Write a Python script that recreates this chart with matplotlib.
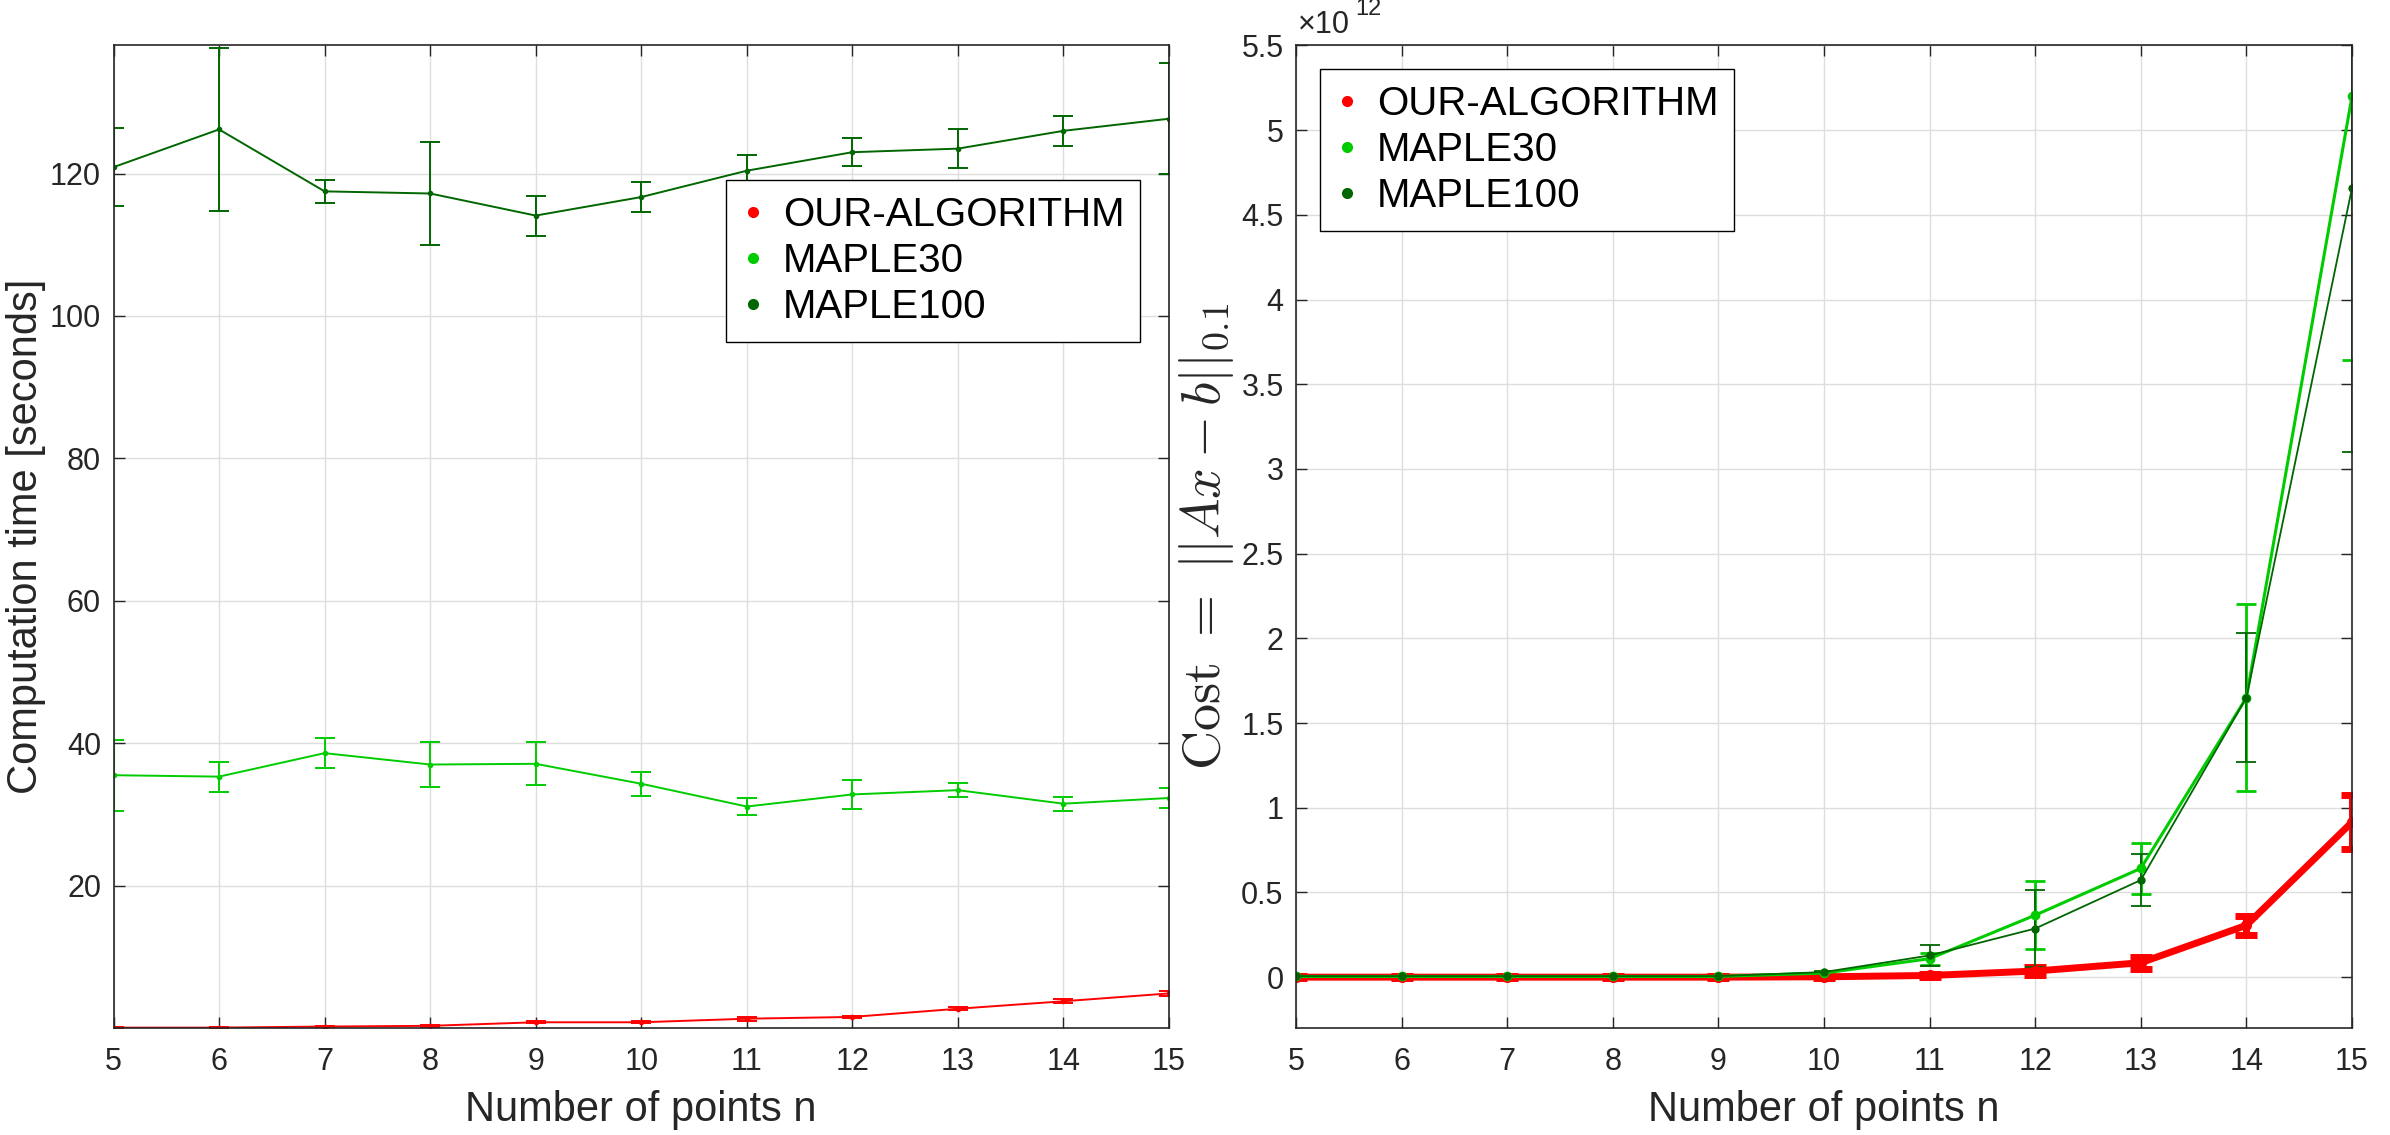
import numpy as np
import matplotlib.pyplot as plt
from matplotlib.lines import Line2D
from matplotlib.ticker import FuncFormatter

plt.rcParams['font.family'] = ['Liberation Sans', 'DejaVu Sans']
plt.rcParams['mathtext.fontset'] = 'cm'

# data
n_points = [5, 6, 7, 8, 9, 10, 11, 12, 13, 14, 15]
labels = ['OUR-ALGORITHM', 'MAPLE30', 'MAPLE100']

# computation time [seconds]
time_ours = [0.05, 0.05, 0.2, 0.3, 0.8, 0.8, 1.3, 1.55, 2.7, 3.75, 4.85]
time_ours_err = [0.05, 0.05, 0.1, 0.1, 0.15, 0.15, 0.3, 0.2, 0.2, 0.25, 0.35]
time_m30 = [35.5, 35.3, 38.6, 37.0, 37.1, 34.3, 31.1, 32.8, 33.4, 31.5, 32.3]
time_m30_err = [5.0, 2.1, 2.1, 3.1, 3.0, 1.7, 1.25, 2.0, 1.0, 1.0, 1.4]
time_m100 = [120.9, 126.2, 117.5, 117.2, 114.1, 116.7, 120.4, 123.0, 123.5, 126.0, 127.7]
time_m100_err = [5.5, 11.5, 1.6, 7.2, 2.8, 2.1, 2.2, 2.0, 2.7, 2.1, 7.8]

# cost, in units of 1e12
cost_ours = [0.0, 0.0, 0.0, 0.0, 0.0, 0.002, 0.01, 0.036, 0.085, 0.306, 0.915]
cost_ours_err = [0.005, 0.005, 0.005, 0.005, 0.005, 0.005, 0.01, 0.025, 0.035, 0.056, 0.16]
cost_m30 = [0.004, 0.004, 0.004, 0.004, 0.004, 0.024, 0.109, 0.366, 0.642, 1.65, 5.2]
cost_m30_err = [0.002, 0.002, 0.002, 0.002, 0.002, 0.005, 0.035, 0.2, 0.15, 0.55, 1.555]
cost_m100 = [0.006, 0.006, 0.006, 0.006, 0.006, 0.03, 0.128, 0.287, 0.573, 1.65, 4.658]
cost_m100_err = [0.002, 0.002, 0.002, 0.002, 0.002, 0.006, 0.06, 0.225, 0.155, 0.38, 1.56]

c_red = (1.0, 0.0, 0.0)
c_light = (0.0, 0.8, 0.0)
c_dark = (0.0, 0.4, 0.0)
txt = (0.15, 0.15, 0.15)


def style_axes(ax):
    ax.grid(True, color=(0.87, 0.87, 0.87), linewidth=1.0)
    ax.set_axisbelow(True)
    ax.tick_params(direction='in', length=7.7, width=1.0, top=True, right=True,
                   labelsize=22, colors=txt)
    ax.tick_params(axis='x', pad=14)
    ax.tick_params(axis='y', pad=9)
    for s in ax.spines.values():
        s.set_color(txt)
        s.set_linewidth(1.2)
    ax.set_xlim(5, 15)
    ax.set_xticks(n_points)


def add_legend(ax, **kw):
    handles = [Line2D([], [], color=c, marker='o', linestyle='none', markersize=7)
               for c in (c_red, c_light, c_dark)]
    leg = ax.legend(handles, labels, fontsize=29, handlelength=0.5, handletextpad=0.5,
                    labelspacing=0.2, borderpad=0.4, fancybox=False, framealpha=1.0,
                    borderaxespad=0, **kw)
    leg.get_frame().set_edgecolor('black')
    leg.get_frame().set_linewidth(1.0)


fig = plt.figure(figsize=(23.9, 11.35), dpi=100)
ax1 = fig.add_axes([0.0475, 0.0943, 0.4416, 0.8657])
ax2 = fig.add_axes([0.5423, 0.0943, 0.4418, 0.8657])

# left: computation time
ax1.errorbar(n_points, time_ours, yerr=time_ours_err, color=c_red, lw=1.4, marker='o',
             markersize=3, capsize=7, elinewidth=1.4, capthick=1.4)
ax1.errorbar(n_points, time_m30, yerr=time_m30_err, color=c_light, lw=1.4, marker='o',
             markersize=3, capsize=7, elinewidth=1.4, capthick=1.4)
ax1.errorbar(n_points, time_m100, yerr=time_m100_err, color=c_dark, lw=1.4, marker='o',
             markersize=3, capsize=7, elinewidth=1.4, capthick=1.4)
style_axes(ax1)
ax1.set_ylim(0, 138)
ax1.set_yticks([20, 40, 60, 80, 100, 120])
ax1.set_xlabel('Number of points n', fontsize=30, color=txt, labelpad=9)
ax1.set_ylabel('Computation time [seconds]', fontsize=30, color=txt, labelpad=3)
add_legend(ax1, loc='upper right', bbox_to_anchor=(0.973, 0.863))

# right: cost
ax2.errorbar(n_points, cost_ours, yerr=cost_ours_err, color=c_red, lw=5, marker='o',
             markersize=7, capsize=8, elinewidth=5, capthick=5)
ax2.errorbar(n_points, cost_m30, yerr=cost_m30_err, color=c_light, lw=2.2, marker='o',
             markersize=6, capsize=7, elinewidth=2, capthick=2)
ax2.errorbar(n_points, cost_m100, yerr=cost_m100_err, color=c_dark, lw=1.3, marker='o',
             markersize=5, capsize=7, elinewidth=1.3, capthick=1.3)
style_axes(ax2)
ax2.set_ylim(-0.3, 5.5)
ax2.set_yticks(np.arange(0, 5.51, 0.5))
ax2.yaxis.set_major_formatter(FuncFormatter(lambda v, p: '%g' % v))
ax2.text(0.002, 1.006, '\u00d710', transform=ax2.transAxes, fontsize=22,
         color=txt, ha='left', va='bottom')
ax2.text(0.056, 1.026, '12', transform=ax2.transAxes, fontsize=17,
         color=txt, ha='left', va='bottom')
ax2.set_xlabel('Number of points n', fontsize=30, color=txt, labelpad=9)
ax2.set_ylabel(r'$\mathrm{Cost}\ =\ ||Ax-b||_{0.1}$', fontsize=39, color=txt, labelpad=4)
add_legend(ax2, loc='upper left', bbox_to_anchor=(0.023, 0.976))

fig.savefig('out.png', dpi=100)
